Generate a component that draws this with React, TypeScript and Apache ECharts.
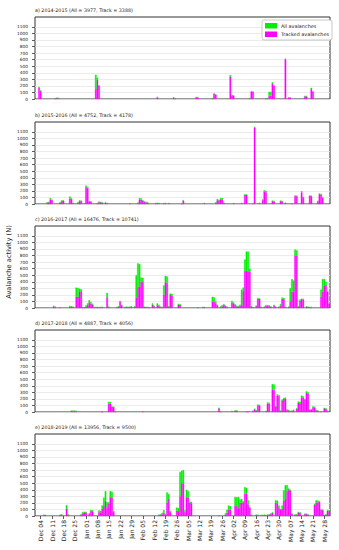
import React, { useEffect, useRef } from "react";
import * as echarts from "echarts";

// Days from Dec 01 (index 0) to May 31 (index 181)
const N_DAYS = 182;
const TICK_LABELS = [
  "Dec 04", "Dec 11", "Dec 18", "Dec 25", "Jan 01", "Jan 08", "Jan 15", "Jan 22", "Jan 29",
  "Feb 05", "Feb 12", "Feb 19", "Feb 26", "Mar 05", "Mar 12", "Mar 19", "Mar 26", "Apr 02",
  "Apr 09", "Apr 16", "Apr 23", "Apr 30", "May 07", "May 14", "May 21", "May 28",
];
const TICK_START = 3;
const TICK_STEP = 7;
const Y_TICKS = [0, 100, 200, 300, 400, 500, 600, 700, 800, 900, 1000, 1100];

const TITLES = [
  "a) 2014-2015 (All = 3977, Track = 3388)",
  "b) 2015-2016 (All = 4752, Track = 4178)",
  "c) 2016-2017 (All = 16476, Track = 10741)",
  "d) 2017-2018 (All = 4887, Track = 4056)",
  "e) 2018-2019 (All = 13956, Track = 9500)",
];

// [dayIndex, all avalanches, tracked avalanches]
const SEASON_A: [number, number, number][] = [
  [2, 185, 170], [3, 130, 120], [12, 15, 5], [13, 20, 15], [14, 15, 10], [37, 370, 150], [38, 325, 295],
  [39, 210, 200], [75, 30, 25], [85, 25, 20], [86, 10, 8], [99, 28, 25], [100, 25, 22], [109, 15, 5],
  [110, 85, 80], [111, 70, 65], [120, 365, 340], [121, 60, 55], [122, 55, 50], [132, 15, 5], [133, 120, 110],
  [134, 115, 110], [142, 15, 5], [143, 15, 5], [144, 110, 45], [145, 110, 50], [146, 255, 230], [147, 210, 200],
  [154, 615, 605], [156, 25, 20], [157, 25, 20], [166, 45, 40], [167, 45, 40], [170, 170, 150], [171, 120, 110],
];
const SEASON_B: [number, number, number][] = [
  [7, 25, 20], [8, 30, 25], [9, 90, 65], [10, 65, 60], [15, 30, 20], [16, 55, 45], [17, 55, 50], [21, 115, 80],
  [22, 85, 75], [23, 15, 10], [26, 30, 15], [27, 55, 45], [28, 50, 45], [31, 280, 255], [32, 260, 245],
  [33, 45, 40], [34, 40, 35], [38, 15, 10], [39, 35, 30], [40, 30, 25], [41, 25, 20], [43, 25, 20], [44, 15, 10],
  [58, 8, 5], [63, 20, 15], [64, 90, 70], [65, 85, 65], [66, 60, 50], [67, 40, 30], [68, 30, 25], [69, 25, 20],
  [74, 15, 10], [75, 15, 10], [76, 12, 10], [79, 12, 8], [80, 15, 10], [82, 12, 10], [90, 10, 5], [91, 60, 50],
  [104, 15, 10], [111, 25, 15], [112, 75, 55], [113, 60, 55], [114, 90, 70], [115, 90, 70], [116, 20, 15],
  [122, 12, 10], [127, 15, 10], [129, 150, 140], [130, 145, 140], [134, 10, 5], [135, 1175, 1165],
  [138, 20, 10], [140, 70, 60], [141, 210, 190], [142, 200, 180], [146, 50, 45], [147, 45, 40], [151, 50, 45],
  [152, 45, 40], [154, 20, 15], [158, 10, 5], [160, 130, 120], [161, 125, 120], [164, 195, 180], [165, 110, 100],
  [169, 130, 125], [170, 125, 120], [174, 50, 40], [175, 160, 150], [176, 155, 145], [177, 100, 95],
];
const SEASON_C: [number, number, number][] = [
  [11, 30, 25], [12, 20, 15], [15, 10, 5], [21, 35, 20], [22, 25, 20], [23, 20, 15], [25, 310, 170],
  [26, 305, 170], [27, 295, 255], [28, 285, 250], [29, 10, 5], [30, 10, 5], [31, 40, 20], [32, 70, 45],
  [33, 120, 85], [34, 90, 65], [35, 65, 55], [36, 15, 10], [37, 12, 10], [38, 15, 10], [39, 12, 8], [40, 15, 10],
  [41, 15, 10], [44, 230, 165], [45, 20, 15], [50, 15, 10], [51, 25, 20], [52, 110, 95], [53, 50, 40],
  [55, 15, 10], [56, 20, 15], [57, 15, 10], [58, 20, 15], [59, 25, 20], [61, 30, 20], [62, 500, 160],
  [63, 680, 320], [64, 670, 330], [65, 465, 400], [66, 460, 395], [67, 20, 15], [68, 15, 10], [69, 15, 10],
  [70, 10, 5], [72, 70, 50], [73, 30, 25], [75, 70, 40], [76, 50, 30], [77, 20, 15], [78, 15, 10],
  [79, 345, 200], [80, 490, 390], [81, 480, 380], [82, 30, 20], [83, 220, 200], [84, 215, 190], [88, 65, 50],
  [89, 60, 50], [100, 10, 5], [103, 15, 10], [104, 15, 10], [109, 170, 100], [110, 165, 95], [111, 100, 70],
  [112, 50, 40], [114, 25, 15], [115, 40, 25], [116, 60, 50], [117, 35, 30], [118, 20, 15], [121, 110, 80],
  [122, 85, 70], [123, 60, 45], [124, 35, 25], [125, 30, 20], [126, 50, 40], [127, 280, 40], [128, 310, 260],
  [129, 740, 565], [130, 860, 565], [131, 860, 560], [132, 600, 555], [133, 30, 20], [134, 15, 10],
  [136, 35, 30], [137, 155, 140], [138, 145, 140], [139, 20, 15], [141, 20, 15], [142, 45, 35], [143, 45, 30],
  [144, 40, 30], [145, 25, 20], [147, 45, 40], [148, 20, 15], [150, 20, 15], [151, 60, 30], [152, 160, 140],
  [153, 150, 135], [154, 20, 15], [156, 20, 15], [157, 300, 100], [158, 440, 250], [159, 420, 245],
  [160, 890, 800], [161, 880, 795], [162, 30, 20], [163, 130, 110], [164, 140, 135], [165, 140, 130],
  [167, 25, 20], [168, 20, 15], [169, 15, 10], [170, 15, 10], [176, 280, 170], [177, 440, 250],
  [178, 440, 345], [179, 400, 350], [180, 260, 250], [181, 70, 65],
];
const SEASON_D: [number, number, number][] = [
  [22, 20, 15], [23, 20, 15], [24, 20, 15], [25, 15, 10], [41, 5, 3], [45, 155, 125], [46, 150, 130],
  [47, 85, 80], [48, 80, 75], [49, 10, 5], [66, 8, 5], [113, 65, 55], [114, 10, 5], [121, 15, 10],
  [123, 25, 20], [124, 25, 15], [130, 10, 5], [131, 10, 5], [134, 20, 15], [135, 50, 40], [136, 30, 20],
  [137, 115, 100], [138, 110, 100], [142, 15, 10], [143, 145, 130], [144, 140, 130], [146, 425, 340],
  [147, 420, 335], [148, 90, 80], [149, 270, 250], [150, 260, 245], [151, 20, 15], [152, 190, 170],
  [153, 215, 200], [154, 220, 205], [155, 40, 30], [156, 30, 25], [157, 15, 10], [158, 20, 15], [159, 35, 25],
  [161, 60, 50], [162, 160, 140], [163, 155, 135], [164, 250, 225], [165, 240, 220], [166, 200, 190],
  [167, 315, 290], [168, 300, 280], [169, 40, 35], [170, 40, 35], [171, 85, 70], [172, 80, 70], [173, 30, 25],
  [174, 25, 20], [176, 10, 5], [178, 60, 55], [179, 55, 50], [180, 20, 15],
];
const SEASON_E: [number, number, number][] = [
  [5, 20, 15], [6, 15, 10], [15, 20, 15], [16, 25, 20], [19, 165, 110], [20, 30, 20], [28, 30, 20],
  [29, 60, 45], [30, 65, 50], [31, 60, 55], [33, 40, 30], [34, 90, 75], [35, 85, 75], [39, 85, 60],
  [40, 80, 55], [41, 160, 110], [42, 280, 150], [43, 380, 230], [44, 210, 120], [45, 210, 190],
  [46, 380, 290], [47, 370, 280], [48, 80, 60], [76, 20, 15], [77, 25, 20], [78, 50, 30], [79, 90, 45],
  [80, 30, 20], [81, 360, 200], [82, 335, 265], [83, 80, 60], [87, 130, 80], [88, 120, 75], [89, 670, 300],
  [90, 690, 500], [91, 700, 500], [92, 90, 60], [93, 400, 290], [94, 380, 280], [95, 220, 200],
  [96, 215, 195], [113, 8, 5], [117, 40, 20], [118, 95, 50], [119, 160, 100], [120, 150, 95], [123, 290, 160],
  [124, 285, 150], [125, 290, 120], [126, 250, 200], [127, 260, 200], [128, 220, 210], [129, 440, 340],
  [130, 430, 340], [131, 240, 180], [132, 140, 130], [133, 20, 15], [136, 20, 15], [137, 20, 15],
  [139, 15, 10], [140, 15, 10], [141, 20, 15], [142, 15, 10], [143, 20, 15], [144, 25, 20], [145, 40, 30],
  [146, 55, 45], [148, 240, 200], [149, 235, 195], [150, 160, 120], [151, 105, 100], [152, 160, 110],
  [153, 390, 230], [154, 470, 260], [155, 470, 380], [156, 420, 395], [157, 400, 390], [158, 40, 35],
  [160, 25, 15], [161, 30, 20], [162, 60, 55], [163, 55, 50], [166, 35, 30], [167, 35, 30], [168, 25, 20],
  [172, 185, 170], [173, 240, 205], [174, 235, 210], [175, 225, 215], [176, 100, 95], [177, 95, 90],
  [178, 15, 10], [179, 30, 20], [180, 90, 80], [181, 85, 75],
];

const SEASONS = [SEASON_A, SEASON_B, SEASON_C, SEASON_D, SEASON_E];

const GRID_TOPS = [17, 122, 226, 330, 434];
const GRID_H = 82;
const FONT = "DejaVu Sans";
const GREEN = "#00ee00";
const MAGENTA = "#ff00ff";

// Tracked bars drawn from the base; the remainder of "All" stacked on top,
// so the visible green top reaches the All value. Days with no avalanches are empty.
function expand(events: [number, number, number][]) {
  const tracked: (number | null)[] = new Array(N_DAYS).fill(null);
  const untracked: (number | null)[] = new Array(N_DAYS).fill(null);
  events.forEach(([d, a, t]) => {
    tracked[d] = t > 0 ? t : null;
    untracked[d] = a - t > 0 ? a - t : null;
  });
  return { tracked, untracked };
}

const isTick = (i: number) => i >= TICK_START && (i - TICK_START) % TICK_STEP === 0;

export default function App() {
  const ref = useRef<HTMLDivElement>(null);
  useEffect(() => {
    if (!ref.current) return;
    const chart = echarts.init(ref.current, undefined, { renderer: "svg" });
    const categories = Array.from({ length: N_DAYS }, (_, i) => String(i));
    const grids: any[] = [];
    const xAxes: any[] = [];
    const yAxes: any[] = [];
    const series: any[] = [];
    const titles: any[] = [];
    SEASONS.forEach((ev, k) => {
      const last = k === SEASONS.length - 1;
      grids.push({
        left: 35,
        width: 295,
        top: GRID_TOPS[k],
        height: GRID_H,
        show: true,
        borderColor: "#333",
        borderWidth: 1,
        backgroundColor: "#fff",
      });
      titles.push({
        text: TITLES[k],
        left: 35,
        top: GRID_TOPS[k] - 9,
        padding: 0,
        textStyle: { fontSize: 4.8, fontWeight: "normal", color: "#222", fontFamily: FONT },
      });
      xAxes.push({
        type: "category",
        gridIndex: k,
        data: categories,
        boundaryGap: true,
        axisLine: { show: false },
        axisTick: {
          show: last,
          alignWithLabel: true,
          interval: (i: number) => isTick(i),
          length: 3,
          lineStyle: { color: "#333", width: 0.8 },
        },
        axisLabel: {
          show: last,
          interval: (i: number) => isTick(i),
          formatter: (_v: string, i: number) => TICK_LABELS[(i - TICK_START) / TICK_STEP] ?? "",
          rotate: 90,
          margin: 4,
          fontSize: 6,
          color: "#222",
          fontFamily: FONT,
        },
        splitLine: { show: false },
      });
      yAxes.push({
        type: "value",
        gridIndex: k,
        min: 0,
        max: 1250,
        interval: 100,
        axisLine: { show: false },
        axisTick: {
          show: true,
          customValues: Y_TICKS,
          length: 3,
          lineStyle: { color: "#333", width: 0.8 },
        },
        axisLabel: {
          customValues: Y_TICKS,
          formatter: (v: number) => String(v),
          margin: 7,
          fontSize: 4.3,
          color: "#222",
          fontFamily: FONT,
        },
        splitLine: { show: true, lineStyle: { color: "#e6e6e6", width: 0.8 } },
      });
      const { tracked, untracked } = expand(ev);
      series.push({
        type: "bar",
        name: "Tracked avalanches",
        xAxisIndex: k,
        yAxisIndex: k,
        stack: "s" + k,
        data: tracked,
        barCategoryGap: "0%",
        itemStyle: { color: MAGENTA, borderColor: MAGENTA, borderWidth: 0.4 },
        emphasis: { disabled: true },
      });
      series.push({
        type: "bar",
        name: "All avalanches",
        xAxisIndex: k,
        yAxisIndex: k,
        stack: "s" + k,
        data: untracked,
        barCategoryGap: "0%",
        itemStyle: { color: GREEN, borderColor: GREEN, borderWidth: 0.4 },
        emphasis: { disabled: true },
      });
    });
    chart.setOption({
      animation: false,
      backgroundColor: "#fff",
      title: titles,
      grid: grids,
      xAxis: xAxes,
      yAxis: yAxes,
      series,
      legend: {
        data: ["All avalanches", "Tracked avalanches"],
        orient: "vertical",
        left: 262,
        top: 20,
        icon: "rect",
        itemWidth: 10,
        itemHeight: 3.5,
        itemGap: 3,
        padding: [3, 3, 3, 3],
        borderColor: "#bbb",
        borderWidth: 0.8,
        borderRadius: 2,
        backgroundColor: "#fff",
        selectedMode: false,
        textStyle: { fontSize: 4.9, color: "#222", fontFamily: FONT },
      },
      graphic: [
        {
          type: "text",
          x: 9,
          y: 262,
          rotation: Math.PI / 2,
          style: {
            text: "Avalanche activity (N)",
            fontSize: 6.7,
            fontFamily: FONT,
            fill: "#222",
            align: "center",
            verticalAlign: "middle",
          },
        },
      ],
    });
    return () => chart.dispose();
  }, []);
  return (
    <div
      ref={ref}
      style={{ position: "fixed", left: 0, top: 0, width: 339, height: 550, background: "#fff" }}
    />
  );
}
